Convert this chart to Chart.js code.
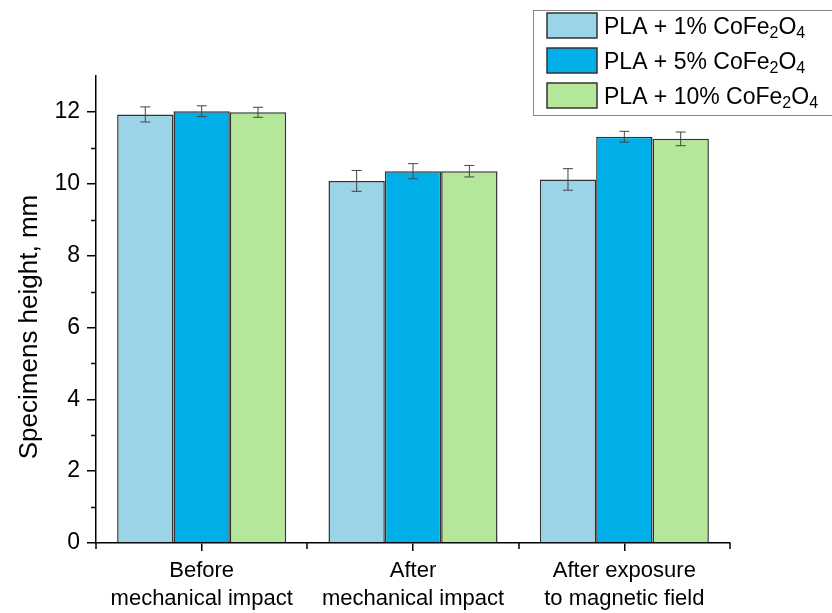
<!DOCTYPE html>
<html>
<head>
<meta charset="utf-8">
<script src="https://cdn.jsdelivr.net/npm/chart.js@4.4.1/dist/chart.umd.min.js"></script>
<style>
  html, body { margin: 0; padding: 0; background: #fff; }
  #wrap { width: 832px; height: 613px; position: relative; }
</style>
</head>
<body>
<div id="wrap"><canvas id="chart"></canvas></div>
<script>
const categories = [
  ['Before', 'mechanical impact'],
  ['After', 'mechanical impact'],
  ['After exposure', 'to magnetic field']
]
const seriesNames = ['PLA + 1% CoFe2O4', 'PLA + 5% CoFe2O4', 'PLA + 10% CoFe2O4']
const pla1 = [11.93, 10.08, 10.12]
const pla5 = [12.02, 10.35, 11.31]
const pla10 = [11.99, 10.35, 11.25]
const pla1Err = [0.21, 0.29, 0.30]
const pla5Err = [0.15, 0.21, 0.15]
const pla10Err = [0.14, 0.16, 0.19]
const yTicks = [0, 2, 4, 6, 8, 10, 12]

const colors = ['#9bd3e7', '#00aee8', '#b5e79a']
const FONT = '"Liberation Sans", Arial, sans-serif'

// error bars, extra ticks, rotated axis title, legend with subscripts
const extras = {
  id: 'extras',
  afterDatasetsDraw(chart) {
    const ctx = chart.ctx
    const y = chart.scales.y
    ctx.save()
    ctx.strokeStyle = '#444'
    ctx.lineWidth = 1
    chart.data.datasets.forEach((ds, i) => {
      const meta = chart.getDatasetMeta(i)
      meta.data.forEach((bar, j) => {
        const v = ds.data[j], e = ds.errors[j]
        const top = y.getPixelForValue(v + e), bot = y.getPixelForValue(v - e)
        ctx.beginPath()
        ctx.moveTo(bar.x, top); ctx.lineTo(bar.x, bot)
        ctx.moveTo(bar.x - 5, top); ctx.lineTo(bar.x + 5, top)
        ctx.moveTo(bar.x - 5, bot); ctx.lineTo(bar.x + 5, bot)
        ctx.stroke()
      })
    })
    ctx.restore()
  },
  afterDraw(chart) {
    const ctx = chart.ctx
    const x = chart.scales.x, y = chart.scales.y
    const area = chart.chartArea
    ctx.save()
    ctx.strokeStyle = '#000'
    ctx.lineWidth = 1.5
    // minor y ticks
    for (let v = 1; v < 13; v += 2) {
      const py = Math.round(y.getPixelForValue(v)) + 0.5
      ctx.beginPath(); ctx.moveTo(area.left - 5, py); ctx.lineTo(area.left, py); ctx.stroke()
    }
    // x ticks at category boundaries
    for (let k = 0; k <= categories.length; k++) {
      const px = Math.round(x.getPixelForValue(k - 0.5))
      ctx.beginPath(); ctx.moveTo(px, area.bottom); ctx.lineTo(px, area.bottom + 6); ctx.stroke()
    }
    // y axis title
    ctx.fillStyle = '#000'
    ctx.font = '26px ' + FONT
    ctx.textAlign = 'center'
    ctx.textBaseline = 'middle'
    ctx.translate(30, 327)
    ctx.rotate(-Math.PI / 2)
    ctx.fillText('Specimens height, mm', 0, 0)
    ctx.restore()

    // legend
    ctx.save()
    ctx.fillStyle = '#fff'
    ctx.fillRect(533, 10, 305, 105)
    ctx.strokeStyle = '#888'
    ctx.lineWidth = 1
    ctx.strokeRect(533.5, 10.5, 310, 105)
    chart.data.datasets.forEach((ds, i) => {
      const top = 13 + i * 35
      ctx.fillStyle = ds.backgroundColor
      ctx.fillRect(547, top, 50, 25)
      ctx.strokeStyle = '#333'
      ctx.lineWidth = 1.5
      ctx.strokeRect(547, top, 50, 25)
      ctx.fillStyle = '#000'
      ctx.textAlign = 'left'
      ctx.textBaseline = 'alphabetic'
      const base = top + 21
      const label = seriesNames[i].replace('CoFe2O4', 'CoFe')
      ctx.font = '23px ' + FONT
      let px = 604
      ctx.fillText(label, px, base); px += ctx.measureText(label).width
      ctx.font = '16px ' + FONT
      ctx.fillText('2', px, base + 4); px += ctx.measureText('2').width
      ctx.font = '23px ' + FONT
      ctx.fillText('O', px, base); px += ctx.measureText('O').width
      ctx.font = '16px ' + FONT
      ctx.fillText('4', px, base + 4)
    })
    ctx.restore()
  }
}

new Chart(document.getElementById('chart'), {
  type: 'bar',
  data: {
    labels: categories,
    datasets: [
      { label: seriesNames[0], data: pla1, errors: pla1Err, backgroundColor: colors[0] },
      { label: seriesNames[1], data: pla5, errors: pla5Err, backgroundColor: colors[1] },
      { label: seriesNames[2], data: pla10, errors: pla10Err, backgroundColor: colors[2] }
    ].map(d => Object.assign(d, {
      borderColor: '#333',
      borderWidth: 1.5,
      barPercentage: 1,
      categoryPercentage: 0.8
    }))
  },
  options: {
    responsive: true,
    maintainAspectRatio: false,
    animation: false,
    layout: { padding: { top: 76, right: 102, left: 0, bottom: 0 } },
    plugins: {
      legend: { display: false },
      tooltip: { enabled: false }
    },
    scales: {
      x: {
        afterFit: (s) => { s.height = 70 },
        border: { color: '#000', width: 1.5 },
        grid: { offset: false, drawOnChartArea: false, color: '#000', tickLength: 8, lineWidth: 1.5 },
        ticks: { color: '#000', padding: 6, font: { family: FONT, size: 22, lineHeight: 1.27 } }
      },
      y: {
        min: 0,
        max: 13,
        afterFit: (s) => { s.width = 96 },
        afterBuildTicks: (s) => { s.ticks = yTicks.map(v => ({ value: v })) },
        border: { color: '#000', width: 1.5 },
        grid: { drawOnChartArea: false, color: '#000', tickLength: 9, lineWidth: 1.5 },
        ticks: { color: '#000', padding: 7, font: { family: FONT, size: 23 } }
      }
    }
  },
  plugins: [extras]
})
</script>
</body>
</html>
